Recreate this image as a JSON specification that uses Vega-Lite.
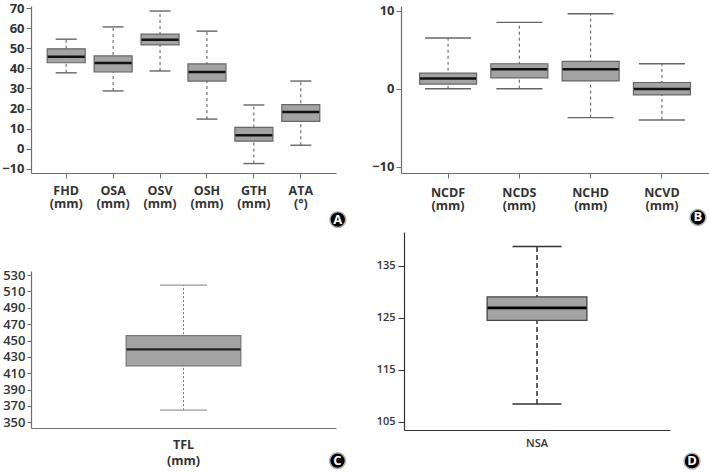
{
  "$schema": "https://vega.github.io/schema/vega-lite/v6.json",
  "padding": {"left": 1, "top": 2, "right": 0, "bottom": 0},
  "background": "white",
  "config": {
    "font": "Open Sans",
    "view": {"stroke": null},
    "axis": {
      "grid": false,
      "domainColor": "#6e6e6e",
      "domainWidth": 1.2,
      "tickColor": "#6e6e6e",
      "tickSize": 5,
      "labelColor": "#333333",
      "labelFont": "Open Sans",
      "labelFontWeight": "bold",
      "labelFontSize": 13,
      "labelPadding": 2,
      "labelOverlap": false,
      "title": null
    },
    "axisX": {"labelAngle": 0, "labelLineHeight": 13.5, "labelPadding": 6, "labelFontSize": 12.5}
  },
  "datasets": {
    "A": [
      {"label": "FHD (mm)", "min": 37.8, "q1": 42.8, "median": 45.8, "q3": 49.7, "max": 54.5},
      {"label": "OSA (mm)", "min": 28.8, "q1": 38.2, "median": 42.7, "q3": 46.2, "max": 60.6},
      {"label": "OSV (mm)", "min": 38.7, "q1": 51.7, "median": 54.2, "q3": 57.0, "max": 68.5},
      {"label": "OSH (mm)", "min": 14.8, "q1": 33.7, "median": 38.2, "q3": 42.2, "max": 58.5},
      {"label": "GTH (mm)", "min": -7.3, "q1": 3.8, "median": 6.8, "q3": 10.7, "max": 21.8},
      {"label": "ATA (°)", "min": 1.8, "q1": 13.7, "median": 18.3, "q3": 22.0, "max": 33.7}
    ],
    "B": [
      {"label": "NCDF (mm)", "min": 0.0, "q1": 0.6, "median": 1.3, "q3": 2.0, "max": 6.5},
      {"label": "NCDS (mm)", "min": 0.0, "q1": 1.4, "median": 2.5, "q3": 3.2, "max": 8.5},
      {"label": "NCHD (mm)", "min": -3.7, "q1": 1.0, "median": 2.5, "q3": 3.5, "max": 9.6},
      {"label": "NCVD (mm)", "min": -4.0, "q1": -0.8, "median": -0.05, "q3": 0.8, "max": 3.2}
    ],
    "C": [
      {"label": "TFL (mm)", "min": 364.8, "q1": 419, "median": 439.2, "q3": 456, "max": 517.7}
    ],
    "D": [
      {"label": "NSA", "min": 108.4, "q1": 124.5, "median": 126.9, "q3": 129.0, "max": 138.7}
    ],
    "empty": []
  },
  "vconcat": [
    {
      "hconcat": [
        {
          "width": 305,
          "height": 167,
          "layer": [
            {
              "data": {"name": "A"},
              "mark": {"type": "rule", "strokeDash": [3, 3], "color": "#555555", "strokeWidth": 1},
              "encoding": {
                "x": {"field": "label", "type": "nominal", "sort": null, "scale": {"paddingOuter": 0.25, "paddingInner": 0}, "axis": {"labelExpr": "split(datum.label, ' ')"}},
                "y": {"field": "min", "type": "quantitative", "scale": {"domain": [-12, 71], "nice": false, "zero": false}, "axis": {"values": [-10, 0, 10, 20, 30, 40, 50, 60, 70], "labelOverlap": false}},
                "y2": {"field": "max"}
              }
            },
            {
              "data": {"name": "A"},
              "mark": {"type": "bar", "width": {"band": 0.81}, "fill": "#a3a3a3", "stroke": "#666666", "strokeWidth": 1.2},
              "encoding": {
                "x": {"field": "label", "type": "nominal", "sort": null},
                "y": {"field": "q1", "type": "quantitative", "axis": {"values": [-10, 0, 10, 20, 30, 40, 50, 60, 70], "labelOverlap": false}},
                "y2": {"field": "q3"}
              }
            },
            {
              "data": {"name": "A"},
              "mark": {"type": "tick", "size": 37, "thickness": 2.5, "color": "#111111", "opacity": 1},
              "encoding": {
                "x": {"field": "label", "type": "nominal", "sort": null},
                "y": {"field": "median", "type": "quantitative", "axis": {"values": [-10, 0, 10, 20, 30, 40, 50, 60, 70], "labelOverlap": false}}
              }
            },
            {
              "data": {"name": "A"},
              "mark": {"type": "tick", "size": 21, "thickness": 1.4, "color": "#666666", "opacity": 1},
              "encoding": {
                "x": {"field": "label", "type": "nominal", "sort": null},
                "y": {"field": "min", "type": "quantitative", "axis": {"values": [-10, 0, 10, 20, 30, 40, 50, 60, 70], "labelOverlap": false}}
              }
            },
            {
              "data": {"name": "A"},
              "mark": {"type": "tick", "size": 21, "thickness": 1.4, "color": "#666666", "opacity": 1},
              "encoding": {
                "x": {"field": "label", "type": "nominal", "sort": null},
                "y": {"field": "max", "type": "quantitative", "axis": {"values": [-10, 0, 10, 20, 30, 40, 50, 60, 70], "labelOverlap": false}}
              }
            },
            {
              "data": {"values": [{"badge": "A"}]},
              "mark": {"type": "point", "filled": true, "fill": "#000000", "stroke": "#b0b0b0", "strokeWidth": 1.5, "size": 250, "opacity": 1, "xOffset": 37, "clip": false},
              "encoding": {"x": {"datum": "ATA (°)", "type": "nominal"}, "y": {"datum": -35.2, "type": "quantitative", "axis": {"values": [-10, 0, 10, 20, 30, 40, 50, 60, 70], "labelOverlap": false}}}
            },
            {
              "data": {"values": [{"badge": "A"}]},
              "mark": {"type": "text", "color": "white", "fontWeight": "bold", "fontSize": 13, "font": "Open Sans", "dx": 37, "baseline": "middle", "align": "center", "clip": false},
              "encoding": {"x": {"datum": "ATA (°)", "type": "nominal"}, "y": {"datum": -35.2, "type": "quantitative", "axis": {"values": [-10, 0, 10, 20, 30, 40, 50, 60, 70], "labelOverlap": false}}, "text": {"field": "badge"}}
            }
          ]
        },
        {
          "width": 308,
          "height": 167,
          "layer": [
            {
              "data": {"name": "B"},
              "mark": {"type": "rule", "strokeDash": [3, 3], "color": "#555555", "strokeWidth": 1},
              "encoding": {
                "x": {"field": "label", "type": "nominal", "sort": null, "scale": {"paddingOuter": 0.16, "paddingInner": 0}, "axis": {"labelExpr": "split(datum.label, ' ')", "labelPadding": 8}},
                "y": {"field": "min", "type": "quantitative", "scale": {"domain": [-10.8, 10.6], "nice": false, "zero": false}, "axis": {"values": [-10, 0, 10], "labelOverlap": false}},
                "y2": {"field": "max"}
              }
            },
            {
              "data": {"name": "B"},
              "mark": {"type": "bar", "width": {"band": 0.8}, "fill": "#a3a3a3", "stroke": "#666666", "strokeWidth": 1.2},
              "encoding": {
                "x": {"field": "label", "type": "nominal", "sort": null},
                "y": {"field": "q1", "type": "quantitative", "axis": {"values": [-10, 0, 10], "labelOverlap": false}},
                "y2": {"field": "q3"}
              }
            },
            {
              "data": {"name": "B"},
              "mark": {"type": "tick", "size": 56, "thickness": 2.5, "color": "#111111", "opacity": 1},
              "encoding": {
                "x": {"field": "label", "type": "nominal", "sort": null},
                "y": {"field": "median", "type": "quantitative", "axis": {"values": [-10, 0, 10], "labelOverlap": false}}
              }
            },
            {
              "data": {"name": "B"},
              "mark": {"type": "tick", "size": 46, "thickness": 1.4, "color": "#666666", "opacity": 1},
              "encoding": {
                "x": {"field": "label", "type": "nominal", "sort": null},
                "y": {"field": "min", "type": "quantitative", "axis": {"values": [-10, 0, 10], "labelOverlap": false}}
              }
            },
            {
              "data": {"name": "B"},
              "mark": {"type": "tick", "size": 46, "thickness": 1.4, "color": "#666666", "opacity": 1},
              "encoding": {
                "x": {"field": "label", "type": "nominal", "sort": null},
                "y": {"field": "max", "type": "quantitative", "axis": {"values": [-10, 0, 10], "labelOverlap": false}}
              }
            },
            {
              "data": {"values": [{"badge": "B"}]},
              "mark": {"type": "point", "filled": true, "fill": "#000000", "stroke": "#b0b0b0", "strokeWidth": 1.5, "size": 250, "opacity": 1, "xOffset": 36, "clip": false},
              "encoding": {"x": {"datum": "NCVD (mm)", "type": "nominal"}, "y": {"datum": -16.5, "type": "quantitative", "axis": {"values": [-10, 0, 10], "labelOverlap": false}}}
            },
            {
              "data": {"values": [{"badge": "B"}]},
              "mark": {"type": "text", "color": "white", "fontWeight": "bold", "fontSize": 13, "font": "Open Sans", "dx": 36, "baseline": "middle", "align": "center", "clip": false},
              "encoding": {"x": {"datum": "NCVD (mm)", "type": "nominal"}, "y": {"datum": -16.5, "type": "quantitative", "axis": {"values": [-10, 0, 10], "labelOverlap": false}}, "text": {"field": "badge"}}
            }
          ]
        }
      ],
      "spacing": 22
    },
    {
      "hconcat": [
        {
          "vconcat": [
            {
              "width": 305,
              "height": 29,
              "data": {"name": "empty"},
              "mark": "point"
            },
            {
              "width": 305,
              "height": 157,
              "layer": [
                {
                  "data": {"name": "C"},
                  "mark": {"type": "rule", "strokeDash": [2, 2], "color": "#777777", "strokeWidth": 1},
                  "encoding": {
                    "x": {"field": "label", "type": "nominal", "sort": null, "scale": {"paddingOuter": 0, "paddingInner": 0}, "axis": {"labelExpr": "split(datum.label, ' ')", "labelLineHeight": 16, "labelPadding": 10, "ticks": false}},
                    "y": {"field": "min", "type": "quantitative", "scale": {"domain": [343, 535], "nice": false, "zero": false}, "axis": {"values": [350, 370, 390, 410, 430, 450, 470, 490, 510, 530], "labelOverlap": false, "labelFontSize": 13, "labelFontWeight": 600, "tickSize": 4}},
                    "y2": {"field": "max"}
                  }
                },
                {
                  "data": {"name": "C"},
                  "mark": {"type": "bar", "width": {"band": 0.376}, "fill": "#a3a3a3", "stroke": "#777777", "strokeWidth": 1.2},
                  "encoding": {
                    "x": {"field": "label", "type": "nominal", "sort": null},
                    "y": {"field": "q1", "type": "quantitative", "axis": {"values": [350, 370, 390, 410, 430, 450, 470, 490, 510, 530], "labelOverlap": false, "labelFontSize": 13, "labelFontWeight": 600, "tickSize": 4}},
                    "y2": {"field": "q3"}
                  }
                },
                {
                  "data": {"name": "C"},
                  "mark": {"type": "tick", "size": 114, "thickness": 2.2, "color": "#222222", "opacity": 1},
                  "encoding": {
                    "x": {"field": "label", "type": "nominal", "sort": null},
                    "y": {"field": "median", "type": "quantitative", "axis": {"values": [350, 370, 390, 410, 430, 450, 470, 490, 510, 530], "labelOverlap": false, "labelFontSize": 13, "labelFontWeight": 600, "tickSize": 4}}
                  }
                },
                {
                  "data": {"name": "C"},
                  "mark": {"type": "tick", "size": 47, "thickness": 1.3, "color": "#999999", "opacity": 1},
                  "encoding": {
                    "x": {"field": "label", "type": "nominal", "sort": null},
                    "y": {"field": "min", "type": "quantitative", "axis": {"values": [350, 370, 390, 410, 430, 450, 470, 490, 510, 530], "labelOverlap": false, "labelFontSize": 13, "labelFontWeight": 600, "tickSize": 4}}
                  }
                },
                {
                  "data": {"name": "C"},
                  "mark": {"type": "tick", "size": 47, "thickness": 1.3, "color": "#999999", "opacity": 1},
                  "encoding": {
                    "x": {"field": "label", "type": "nominal", "sort": null},
                    "y": {"field": "max", "type": "quantitative", "axis": {"values": [350, 370, 390, 410, 430, 450, 470, 490, 510, 530], "labelOverlap": false, "labelFontSize": 13, "labelFontWeight": 600, "tickSize": 4}}
                  }
                },
                {
                  "data": {"values": [{"badge": "C"}]},
                  "mark": {"type": "point", "filled": true, "fill": "#000000", "stroke": "#b0b0b0", "strokeWidth": 1.5, "size": 250, "opacity": 1, "xOffset": 154, "clip": false},
                  "encoding": {"x": {"datum": "TFL (mm)", "type": "nominal"}, "y": {"datum": 303, "type": "quantitative", "axis": {"values": [350, 370, 390, 410, 430, 450, 470, 490, 510, 530], "labelOverlap": false, "labelFontSize": 13, "labelFontWeight": 600, "tickSize": 4}}}
                },
                {
                  "data": {"values": [{"badge": "C"}]},
                  "mark": {"type": "text", "color": "white", "fontWeight": "bold", "fontSize": 13, "font": "Open Sans", "dx": 154, "baseline": "middle", "align": "center", "clip": false},
                  "encoding": {"x": {"datum": "TFL (mm)", "type": "nominal"}, "y": {"datum": 303, "type": "quantitative", "axis": {"values": [350, 370, 390, 410, 430, 450, 470, 490, 510, 530], "labelOverlap": false, "labelFontSize": 13, "labelFontWeight": 600, "tickSize": 4}}, "text": {"field": "badge"}}
                }
              ]
            }
          ],
          "spacing": 8
        },
        {
          "width": 266,
          "height": 198,
          "layer": [
            {
              "data": {"name": "D"},
              "mark": {"type": "rule", "strokeDash": [5, 3], "color": "#222222", "strokeWidth": 1.4},
              "encoding": {
                "x": {"field": "label", "type": "nominal", "sort": null, "scale": {"paddingOuter": 0, "paddingInner": 0}, "axis": {"labelPadding": 7, "labelFontWeight": 600, "labelFontSize": 11, "domainColor": "#333333", "ticks": false}},
                "y": {"field": "min", "type": "quantitative", "scale": {"domain": [103.4, 141.5], "nice": false, "zero": false}, "axis": {"values": [105, 115, 125, 135], "labelOverlap": false, "labelFontSize": 11, "labelFontWeight": 600, "domainColor": "#333333", "tickColor": "#333333", "tickSize": 6, "labelPadding": 3}},
                "y2": {"field": "max"}
              }
            },
            {
              "data": {"name": "D"},
              "mark": {"type": "bar", "width": {"band": 0.375}, "fill": "#a3a3a3", "stroke": "#444444", "strokeWidth": 1.3},
              "encoding": {
                "x": {"field": "label", "type": "nominal", "sort": null},
                "y": {"field": "q1", "type": "quantitative"},
                "y2": {"field": "q3"}
              }
            },
            {
              "data": {"name": "D"},
              "mark": {"type": "tick", "size": 99, "thickness": 2.6, "color": "#000000", "opacity": 1},
              "encoding": {
                "x": {"field": "label", "type": "nominal", "sort": null},
                "y": {"field": "median", "type": "quantitative"}
              }
            },
            {
              "data": {"name": "D"},
              "mark": {"type": "tick", "size": 49, "thickness": 1.5, "color": "#333333", "opacity": 1},
              "encoding": {
                "x": {"field": "label", "type": "nominal", "sort": null},
                "y": {"field": "min", "type": "quantitative"}
              }
            },
            {
              "data": {"name": "D"},
              "mark": {"type": "tick", "size": 49, "thickness": 1.5, "color": "#333333", "opacity": 1},
              "encoding": {
                "x": {"field": "label", "type": "nominal", "sort": null},
                "y": {"field": "max", "type": "quantitative"}
              }
            },
            {
              "data": {"values": [{"badge": "D"}]},
              "mark": {"type": "point", "filled": true, "fill": "#000000", "stroke": "#b0b0b0", "strokeWidth": 1.5, "size": 250, "opacity": 1, "xOffset": 155, "clip": false},
              "encoding": {"x": {"datum": "NSA", "type": "nominal"}, "y": {"datum": 97.4, "type": "quantitative"}}
            },
            {
              "data": {"values": [{"badge": "D"}]},
              "mark": {"type": "text", "color": "white", "fontWeight": "bold", "fontSize": 13, "font": "Open Sans", "dx": 155, "baseline": "middle", "align": "center", "clip": false},
              "encoding": {"x": {"datum": "NSA", "type": "nominal"}, "y": {"datum": 97.4, "type": "quantitative"}, "text": {"field": "badge"}}
            }
          ]
        }
      ],
      "spacing": 27
    }
  ],
  "spacing": 1
}
